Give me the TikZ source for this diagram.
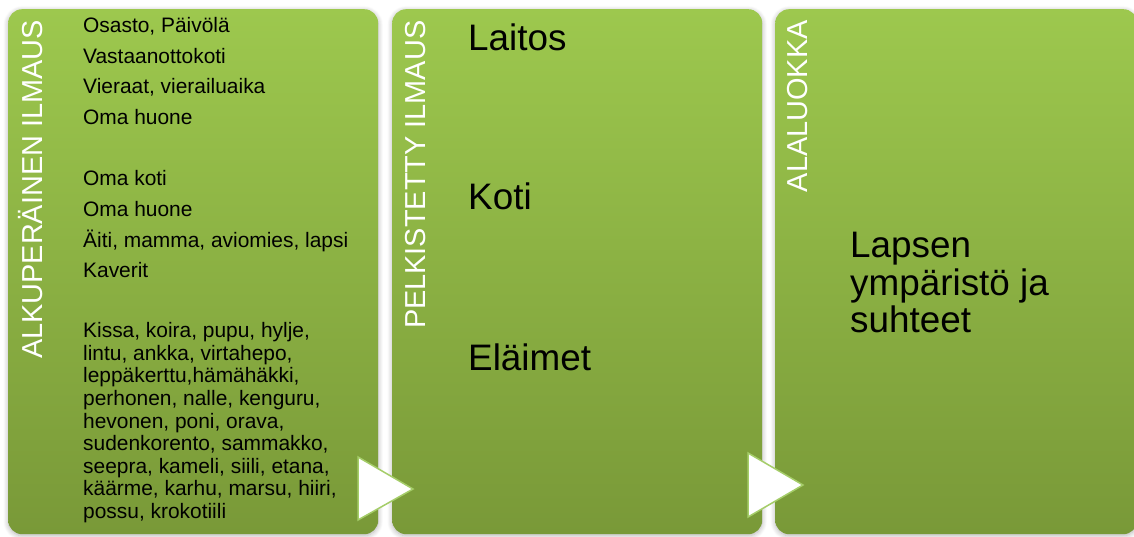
\documentclass[tikz,border=0pt]{standalone}
\usepackage{fontspec}
\setmainfont{Liberation Sans}
\usetikzlibrary{shadows.blur}
\definecolor{gtop}{RGB}{157,200,78}
\definecolor{gbot}{RGB}{121,153,56}
\definecolor{triline}{RGB}{165,205,105}
\begin{document}
\begin{tikzpicture}[x=1bp,y=-1bp,
  box/.style={rounded corners=14bp, top color=gtop, bottom color=gbot, draw=none, inner sep=0pt,
    anchor=north west, minimum height=525bp,
    blur shadow={shadow xshift=0bp, shadow yshift=-1.5bp, shadow blur radius=5bp, shadow blur steps=8, shadow opacity=30}},
  vlabel/.style={rotate=90, anchor=base east, inner sep=0pt, text=white, font=\fontsize{29}{34}\selectfont},
  item/.style={anchor=base west, inner sep=0pt, font=\fontsize{21}{22.5}\selectfont},
  big/.style={anchor=base west, inner sep=0pt, font=\fontsize{37}{40}\selectfont},
  tri/.style={fill=white, draw=triline, line width=1.5bp, line join=miter}]
\useasboundingbox (0,0) rectangle (1134,537);

% boxes
\node[box, minimum width=370bp] (b1) at (8,9) {};
\node[box, minimum width=370bp] (b2) at (392,9) {};
\node[box, minimum width=362bp] (b3) at (775,9) {};

% arrow triangles
\path[tri] (358,457) -- (413,489) -- (358,520) -- cycle;
\path[tri] (748,453) -- (803,485) -- (748,517) -- cycle;

% vertical labels
\node[vlabel] (l1) at (42,20) {ALKUPERÄINEN ILMAUS};
\node[vlabel] (l2) at (425,20.5) {PELKISTETTY ILMAUS};
\node[vlabel] (l3) at (807,20) {ALALUOKKA};

% column 1 items
\foreach \t/\yy [count=\i] in {
  {Osasto, Päivölä}/33, {Vastaanottokoti}/63.5, {Vieraat, vierailuaika}/94, {Oma huone}/124.5,
  {Oma koti}/186, {Oma huone}/217, {Äiti, mamma, aviomies, lapsi}/247.5, {Kaverit}/278,
  {Kissa, koira, pupu, hylje,}/338, {lintu, ankka, virtahepo,}/360.5, {leppäkerttu,hämähäkki,}/383,
  {perhonen, nalle, kenguru,}/405.5, {hevonen, poni, orava,}/428, {sudenkorento, sammakko,}/450.5,
  {seepra, kameli, siili, etana,}/473, {käärme, karhu, marsu, hiiri,}/495.5, {possu, krokotiili}/518}
  \node[item] (a\i) at (83,\yy) {\t};

% column 2
\node[big] (c1) at (468,51) {Laitos};
\node[big] (c2) at (468,210) {Koti};
\node[big] (c3) at (468,371) {Eläimet};

% column 3
\node[big] (d1) at (850,258) {Lapsen};
\node[big] (d2) at (850,295.5) {ympäristö ja};
\node[big] (d3) at (850,333) {suhteet};
\end{tikzpicture}
\end{document}
